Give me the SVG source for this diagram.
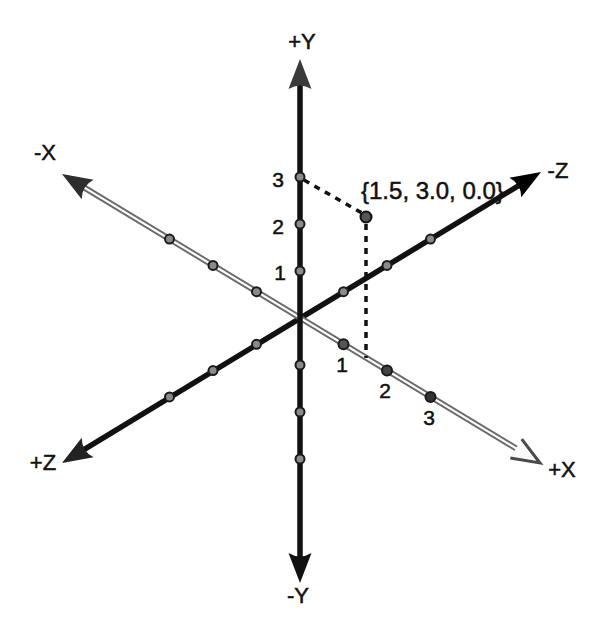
<svg xmlns="http://www.w3.org/2000/svg" width="598" height="618" viewBox="0 0 598 618">
<style>
  text { font-family: "Liberation Sans", Arial, sans-serif; fill: #111; stroke: #111; stroke-width: 0.5; }
  .lbl { font-size: 22px; text-anchor: middle; }
  .num { font-size: 21px; text-anchor: middle; }
  .pt { font-size: 24px; }
  .tick { fill: #8a8a8a; stroke: #1a1a1a; stroke-width: 2; }
  .dash { stroke: #111; stroke-width: 3.5; stroke-dasharray: 6 6; fill: none; }
  .axis { stroke: #111; stroke-width: 5.5; stroke-linecap: butt; }
</style>
<defs>
  <path id="head" d="M0,0 L-30,-11.5 Q-23,0 -30,11.5 Z"/>
  <path id="open" d="M-28,-11 L0,0 L-28,11"/>
</defs>
<rect width="598" height="618" fill="#ffffff"/>

<g id="connectors">
  <!-- Z axis -->
  <line class="axis" x1="79" y1="452.6" x2="524" y2="182.4"/>
  <!-- X axis (double line) -->
  <line x1="79" y1="184.4" x2="518" y2="449.5" stroke="#6a6a6a" stroke-width="6"/>
  <line x1="79" y1="184.4" x2="518" y2="449.5" stroke="#ffffff" stroke-width="2.2"/>
  <!-- Y axis -->
  <line class="axis" x1="300" y1="80" x2="300" y2="562"/>
  <!-- dashed guide lines -->
  <line class="dash" x1="304" y1="180" x2="362" y2="213"/>
  <line class="dash" x1="366" y1="224" x2="366" y2="358"/>
</g>

<g id="arrowheads">
  <use href="#head" transform="translate(300,59) rotate(-90)" fill="#3a3a3a"/>
  <use href="#head" transform="translate(300,583) rotate(90)" fill="#111"/>
  <use href="#head" transform="translate(62,174) rotate(211.17)" fill="#2e2e2e"/>
  <use href="#head" transform="translate(62,463) rotate(148.83)" fill="#222"/>
  <use href="#open" transform="translate(540,463) rotate(31.17)" fill="#fafafa" stroke="#4a4a4a" stroke-width="3"/>
</g>

<g id="y-ticks">
  <circle class="tick" cx="300" cy="177" r="4.5"/>
  <circle class="tick" cx="300" cy="224" r="4.5"/>
  <circle class="tick" cx="300" cy="271" r="4.5"/>
  <circle class="tick" cx="300" cy="365" r="4.5"/>
  <circle class="tick" cx="300" cy="412" r="4.5"/>
  <circle class="tick" cx="300" cy="459" r="4.5"/>
</g>
<g id="x-ticks">
  <circle class="tick" cx="169.5" cy="239.1" r="4.5"/>
  <circle class="tick" cx="213" cy="265.4" r="4.5"/>
  <circle class="tick" cx="256.5" cy="291.7" r="4.5"/>
  <circle class="tick" cx="343.5" cy="344.3" r="5" style="fill:#555"/>
  <circle class="tick" cx="387" cy="370.6" r="5" style="fill:#444"/>
  <circle class="tick" cx="430.5" cy="396.9" r="5" style="fill:#333"/>
</g>
<g id="z-ticks">
  <circle class="tick" cx="343.5" cy="291.7" r="4.5"/>
  <circle class="tick" cx="387" cy="265.4" r="4.5"/>
  <circle class="tick" cx="430.5" cy="239.1" r="4.5"/>
  <circle class="tick" cx="256.5" cy="344.3" r="4.5"/>
  <circle class="tick" cx="213" cy="370.6" r="4.5"/>
  <circle class="tick" cx="169.5" cy="396.9" r="4.5"/>
</g>

<g id="point">
  <circle cx="366" cy="217" r="5.5" fill="#555" stroke="#111" stroke-width="2"/>
  <text class="pt" x="361" y="199">{1.5, 3.0, 0.0}</text>
</g>

<g id="minus-z-arrow">
  <use href="#head" transform="translate(541,172) rotate(-31.17)" fill="#000"/>
</g>

<g id="axis-labels">
  <text class="lbl" x="302" y="49">+Y</text>
  <text class="lbl" x="298" y="603">-Y</text>
  <text class="lbl" x="45" y="160">-X</text>
  <text class="lbl" x="562" y="477">+X</text>
  <text class="lbl" x="558" y="178">-Z</text>
  <text class="lbl" x="43" y="470">+Z</text>
</g>

<g id="tick-labels">
  <text class="num" x="278" y="187">3</text>
  <text class="num" x="278" y="234">2</text>
  <text class="num" x="280" y="280">1</text>
  <text class="num" x="342" y="372">1</text>
  <text class="num" x="385" y="398">2</text>
  <text class="num" x="429" y="425">3</text>
</g>
</svg>
